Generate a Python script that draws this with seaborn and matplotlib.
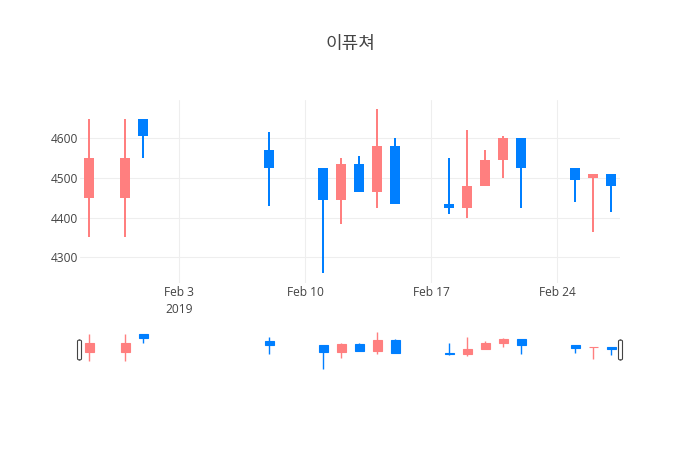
import matplotlib
matplotlib.use('Agg')
import matplotlib.pyplot as plt
import matplotlib.dates as mdates
from matplotlib.patches import FancyBboxPatch
import pandas as pd
import seaborn as sns

# daily OHLC
dates = ['2019-01-29', '2019-01-31', '2019-02-01', '2019-02-08', '2019-02-11',
         '2019-02-12', '2019-02-13', '2019-02-14', '2019-02-15', '2019-02-18',
         '2019-02-19', '2019-02-20', '2019-02-21', '2019-02-22', '2019-02-25',
         '2019-02-26', '2019-02-27']
open_ = [4450, 4450, 4650, 4570, 4525, 4445, 4535, 4465, 4580, 4435,
         4425, 4480, 4545, 4600, 4525, 4500, 4510]
high = [4650, 4650, 4650, 4615, 4525, 4550, 4555, 4675, 4600, 4550,
        4620, 4570, 4605, 4600, 4525, 4510, 4510]
low = [4350, 4350, 4550, 4430, 4260, 4385, 4465, 4425, 4435, 4410,
       4400, 4480, 4500, 4425, 4440, 4365, 4415]
close = [4550, 4550, 4605, 4525, 4445, 4535, 4465, 4580, 4435, 4425,
         4480, 4545, 4600, 4525, 4495, 4510, 4480]

tick_dates = ['2019-02-03', '2019-02-10', '2019-02-17', '2019-02-24']
tick_labels = ['Feb 3\n2019', 'Feb 10', 'Feb 17', 'Feb 24']
yticks = [4300, 4400, 4500, 4600]
title = '이퓨쳐'

UP = '#ff7f7f'
DOWN = '#007fff'
TXT = '#444444'

df = pd.DataFrame({'date': pd.to_datetime(dates), 'open': open_, 'high': high,
                   'low': low, 'close': close})
df['x'] = mdates.date2num(df['date'])
df['bottom'] = df[['open', 'close']].min(axis=1)
df['height'] = (df['close'] - df['open']).abs()
df['color'] = [UP if c >= o else DOWN for o, c in zip(df['open'], df['close'])]

sns.set_style('white')
plt.rcParams['font.family'] = ['Open Sans', 'DejaVu Sans']

fig = plt.figure(figsize=(7, 4.5), dpi=100)
W, H = 700, 450
ax = fig.add_axes([80 / W, 1 - 283 / H, 540 / W, 183 / H])
rs = fig.add_axes([80 / W, 1 - 371 / H, 540 / W, 41 / H])

x0 = mdates.date2num(pd.Timestamp('2019-01-28 12:00'))
x1 = mdates.date2num(pd.Timestamp('2019-02-27 12:00'))
ylim = (4235, 4697)


def candles(a, wick_lw, width, edge_lw):
    a.vlines(df['x'], df['low'], df['high'], colors=df['color'], lw=wick_lw, zorder=2)
    a.bar(df['x'], df['height'], bottom=df['bottom'], width=width,
          color=df['color'], edgecolor=df['color'], lw=edge_lw, zorder=3)
    a.set_xlim(x0, x1)
    a.set_ylim(*ylim)


candles(ax, 1.44, 0.57, 0)
candles(rs, 1.0, 0.5, 0.8)

# main axes styling
ax.set_xticks(mdates.date2num(pd.to_datetime(tick_dates)))
ax.set_xticklabels(tick_labels)
ax.set_yticks(yticks)
ax.grid(True, color='#eeeeee', lw=0.75, zorder=0)
ax.set_axisbelow(True)
ax.tick_params(axis='both', length=0, labelsize=8.64, labelcolor=TXT)
ax.tick_params(axis='x', pad=2.5)
ax.tick_params(axis='y', pad=1.5)
for lbl in ax.get_xticklabels():
    lbl.set_linespacing(1.35)
sns.despine(ax=ax, left=True, bottom=True)

# range slider
rs.set_xticks([])
rs.set_yticks([])
sns.despine(ax=rs, left=True, bottom=True)
for px in (79.5, 620.5):
    handle = FancyBboxPatch(((px - 2) / W, 1 - 360 / H), 4 / W, 20 / H,
                            boxstyle='round,pad=0,rounding_size=0.003',
                            transform=fig.transFigure, facecolor='white',
                            edgecolor='#444444', lw=0.8, zorder=5)
    fig.patches.append(handle)

fig.text(0.5, 1 - 44 / H, title, ha='center', va='center', fontsize=13,
         color=TXT, family=['Noto Sans CJK KR', 'DejaVu Sans'])

fig.savefig('out.png', dpi=100, facecolor='white')
